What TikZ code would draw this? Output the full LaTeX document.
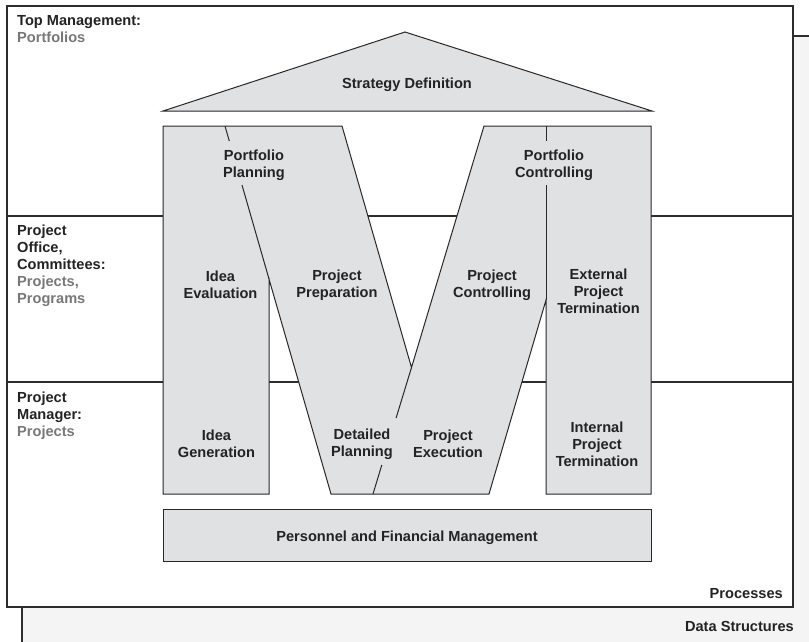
\documentclass[tikz,border=0pt]{standalone}
\usepackage{fontspec}
\setmainfont{Liberation Sans}
\definecolor{shapefill}{RGB}{224,225,227}
\definecolor{bgfill}{RGB}{244,244,244}
\definecolor{framedark}{RGB}{45,45,45}
\definecolor{linedark}{RGB}{40,40,40}
\definecolor{txtdark}{RGB}{35,35,35}
\definecolor{txtgray}{RGB}{120,120,120}
\begin{document}
\begin{tikzpicture}[x=1pt,y=-1pt,
  lbl/.style={font=\fontsize{14.6}{17}\selectfont\bfseries, text=txtdark, align=center, inner sep=0pt},
  side/.style={lbl, align=left, anchor=north west},
  shapeline/.style={draw=linedark, line width=1pt},
  hline/.style={draw=framedark, line width=1.5pt},
  frame/.style={draw=framedark, line width=1.5pt}]
\useasboundingbox (0,0) rectangle (809,642);
\clip (0,0) rectangle (809,642);
% background (data structures) box
\path[frame, fill=bgfill] (22,36) rectangle (830,660);
% front (processes) box
\path[frame, fill=white] (7,6) rectangle (793,607);
% layer separators
\draw[hline] (7,216) -- (793,216);
\draw[hline] (7,382) -- (793,382);
% roof
\draw[shapeline, fill=shapefill] (163,111) -- (405,32) -- (652,111) -- cycle;
% M shape
\draw[shapeline, fill=shapefill] (163,126) -- (342,126) -- (411.5,367.5) -- (484,126)
  -- (651,126) -- (651,494) -- (546,494) -- (546,300) -- (489,494) -- (331,494)
  -- (269,279) -- (269,494) -- (163,494) -- cycle;
% inner dividers
\draw[shapeline] (225,126) -- (229.3,141);
\draw[shapeline] (242,185) -- (269,279);
\draw[shapeline] (373,494) -- (381.8,465);
\draw[shapeline] (396.1,418) -- (411.5,367.5);
\draw[shapeline] (546,126) -- (546,141);
\draw[shapeline] (546,185) -- (546,300);
% base
\draw[shapeline, fill=shapefill] (163,509) rectangle (651,561);
% labels
\node[lbl] (strat) at (407,85) {Strategy Definition};
\node[lbl] (pplan) at (254,165) {Portfolio\\Planning};
\node[lbl] (pctrl) at (554,165) {Portfolio\\Controlling};
\node[lbl] (ideaev) at (220.5,285) {Idea\\Evaluation};
\node[lbl] (prep) at (337,285) {Project\\Preparation};
\node[lbl] (pcon) at (492,285) {Project\\Controlling};
\node[lbl] (ext) at (598.5,291) {External\\Project\\Termination};
\node[lbl] (ideagen) at (216.5,444) {Idea\\Generation};
\node[lbl] (detail) at (362,444) {Detailed\\Planning};
\node[lbl] (exec) at (448,444) {Project\\Execution};
\node[lbl] (int) at (597,444) {Internal\\Project\\Termination};
\node[lbl] (pers) at (407,538) {Personnel and Financial Management};
\node[side] (topm) at (17,15) {Top Management:\\\textcolor{txtgray}{Portfolios}};
\node[side] (office) at (17,225) {Project\\Office,\\Committees:\\\textcolor{txtgray}{Projects,}\\\textcolor{txtgray}{Programs}};
\node[side] (pm) at (17,391.5) {Project\\Manager:\\\textcolor{txtgray}{Projects}};
\node[lbl, anchor=base east] (proc) at (783,598) {Processes};
\node[lbl, anchor=base east] (data) at (794,631) {Data Structures};
\end{tikzpicture}
\end{document}
